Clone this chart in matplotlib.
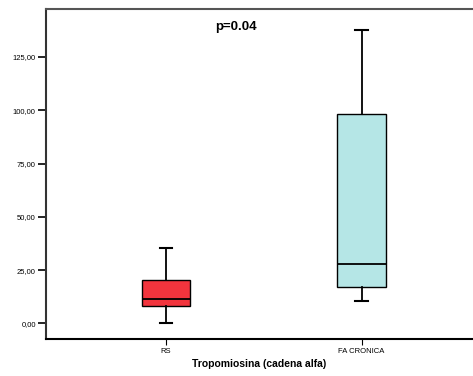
import matplotlib
matplotlib.use("Agg")
import matplotlib.pyplot as plt

plt.rcParams['font.family'] = ['Liberation Sans', 'DejaVu Sans']

categories = ["RS", "FA CRONICA"]
# five-number summaries: lower whisker, Q1, median, Q3, upper whisker
whislo = [0.0, 10.7]
q1 = [8.3, 17.1]
med = [11.4, 28.1]
q3 = [20.5, 98.3]
whishi = [35.4, 137.7]
colors = ["#f2343d", "#b5e6e6"]
yticks = [0, 25, 50, 75, 100, 125]
ytick_labels = ["0,00", "25,00", "50,00", "75,00", "100,00", "125,00"]

stats = [dict(whislo=whislo[i], q1=q1[i], med=med[i], q3=q3[i], whishi=whishi[i],
              label=categories[i], fliers=[]) for i in range(len(categories))]

fig = plt.figure(figsize=(4.73, 3.76), dpi=100)
ax = fig.add_axes([0.0962, 0.0971, 0.9038, 0.8802])

bp = ax.bxp(stats, positions=[1, 2], widths=0.25, patch_artist=True, showfliers=False,
            boxprops=dict(linewidth=1.0, edgecolor="black"),
            medianprops=dict(color="black", linewidth=1.3),
            whiskerprops=dict(color="black", linewidth=1.3),
            capprops=dict(color="black", linewidth=1.5), capwidths=0.065)
for patch, c in zip(bp['boxes'], colors):
    patch.set_facecolor(c)

ax.set_xlim(0.384, 2.569)
ax.set_ylim(-7.5, 147.7)
ax.set_yticks(yticks)
ax.set_yticklabels(ytick_labels, fontsize=5.5)
ax.set_xticks([1, 2])
ax.set_xticklabels(categories, fontsize=5.5)
ax.tick_params(axis='y', length=6, width=1.2, pad=1)
ax.tick_params(axis='x', length=4, width=0.8, pad=2)

ax.spines['right'].set_visible(False)
ax.spines['left'].set_linewidth(1.5)
ax.spines['bottom'].set_linewidth(1.5)
ax.spines['top'].set_linewidth(1.5)
ax.spines['top'].set_color("#555555")
ax.spines['left'].set_color("#333333")

ax.set_xlabel("Tropomiosina (cadena alfa)", fontsize=7.5, fontweight='bold', labelpad=3)
ax.text(1.358, 139.2, "p=0.04", fontsize=9.5, fontweight='bold', ha='center', va='center')

fig.savefig("out.png", dpi=100)
